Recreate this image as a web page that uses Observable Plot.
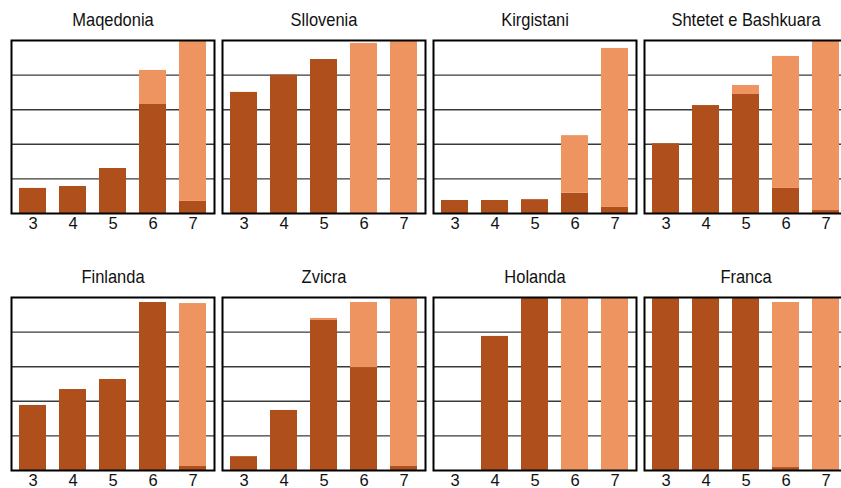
<!DOCTYPE html>
<html>
<head>
<meta charset="utf-8">
<script src="https://cdn.jsdelivr.net/npm/d3@7"></script>
<script src="https://cdn.jsdelivr.net/npm/@observablehq/plot@0.6"></script>
<style>
  html, body { margin: 0; padding: 0; background: #fff; overflow: hidden; }
  #chart svg { max-width: none !important; height: 488px !important; }
</style>
</head>
<body>
<div id="chart"></div>
<script>
const countries = ["Maqedonia", "Sllovenia", "Kirgistani", "Shtetet e Bashkuara", "Finlanda", "Zvicra", "Holanda", "Franca"];
const categories = ["3", "4", "5", "6", "7"];
// lower (dark) segment, percent
const darkValues = [
  [14.5, 15.6, 26.0, 63.0, 7.0],
  [70.0, 80.0, 89.0, 0, 0],
  [7.5, 7.5, 8.0, 11.7, 3.5],
  [40.3, 62.4, 68.8, 14.5, 1.7],
  [37.6, 46.8, 52.6, 97.1, 2.3],
  [8.0, 34.7, 86.7, 59.5, 2.3],
  [0, 77.5, 100, 0, 0],
  [100, 100, 100, 1.7, 0]
];
// upper (light) segment, percent
const lightValues = [
  [0, 0, 0, 19.7, 93.0],
  [0, 0, 0, 98.3, 100],
  [0, 0, 0, 33.3, 91.9],
  [0, 0, 5.2, 76.3, 98.3],
  [0, 0, 0, 0, 94.2],
  [0, 0, 1.2, 37.6, 97.7],
  [0, 0, 0, 100, 100],
  [0, 0, 0, 95.4, 100]
];
const gridValues = [20, 40, 60, 80];
const colors = ["#ae4f1c", "#ee9460"];

const rows = [];
countries.forEach((c, i) => {
  categories.forEach((k, j) => {
    rows.push({country: c, col: i % 4, row: Math.floor(i / 4), cat: k, part: "dark", value: darkValues[i][j]});
  });
  categories.forEach((k, j) => {
    rows.push({country: c, col: i % 4, row: Math.floor(i / 4), cat: k, part: "light", value: lightValues[i][j]});
  });
});
const titles = countries.map((c, i) => ({country: c, col: i % 4, row: Math.floor(i / 4)}));
const ticks = [];
countries.forEach((c, i) => categories.forEach(k => ticks.push({cat: k, col: i % 4, row: Math.floor(i / 4)})));

const chart = Plot.plot({
  width: 848,
  height: 488,
  marginTop: 40,
  marginBottom: 18,
  marginLeft: 10,
  marginRight: 0,
  style: {fontFamily: "'Liberation Sans', Arial, sans-serif", fontSize: "16px", color: "#111", background: "#fff", maxWidth: "none"},
  fx: {axis: null, paddingInner: 0.0378, paddingOuter: 0},
  fy: {axis: null, paddingInner: 0.327, paddingOuter: 0},
  x: {domain: categories, axis: null, paddingInner: 0.335, paddingOuter: 0.1675},
  y: {domain: [0, 100], axis: null},
  color: {domain: ["dark", "light"], range: colors},
  marks: [
    Plot.ruleY(gridValues, {stroke: "#3a3a3a", strokeWidth: 1.4}),
    Plot.barY(rows, Plot.stackY({x: "cat", y: "value", fill: "part", fx: "col", fy: "row", order: null})),
    Plot.frame({stroke: "#000", strokeWidth: 2}),
    Plot.text(titles, {fx: "col", fy: "row", text: "country", frameAnchor: "top", dy: -20, lineAnchor: "middle", fontSize: 18.5, fill: "#111", className: "ttl"}),
    Plot.text(ticks, {fx: "col", fy: "row", x: "cat", text: "cat", frameAnchor: "bottom", dy: 10, lineAnchor: "middle", fontSize: 16.5, fill: "#111"})
  ]
});
// slightly condensed title lettering, as in the reference
d3.select(chart).selectAll(".ttl text").attr("transform", function () {
  return (this.getAttribute("transform") || "") + " scale(0.89,1)";
});
document.getElementById("chart").appendChild(chart);
</script>
</body>
</html>
